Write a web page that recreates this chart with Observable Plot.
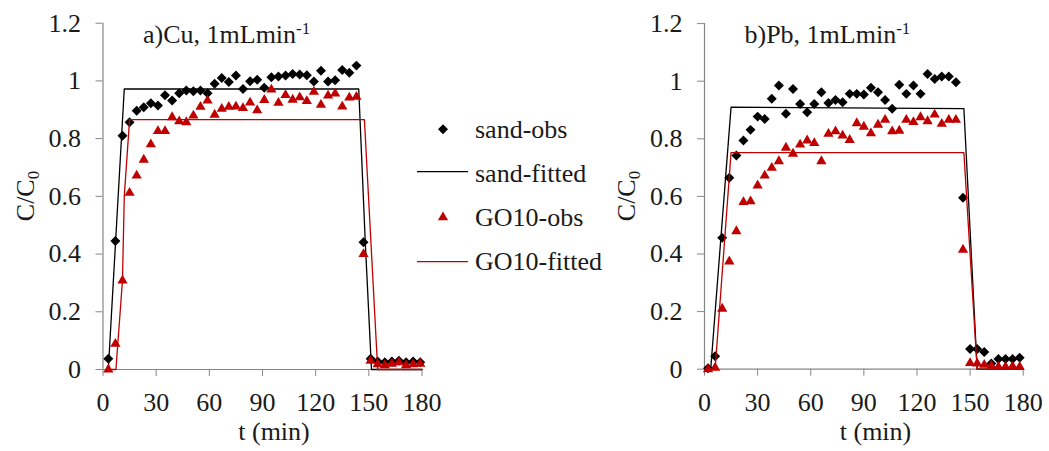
<!DOCTYPE html>
<html><head><meta charset="utf-8">
<script src="https://cdn.jsdelivr.net/npm/d3@7"></script>
<script src="https://cdn.jsdelivr.net/npm/@observablehq/plot@0.6"></script>
<style>
html,body{margin:0;padding:0;background:#fff;}
#wrap{position:relative;width:1049px;height:451px;overflow:hidden;}
#wrap > svg{position:absolute;top:0;}
</style></head><body>
<div id="wrap"></div>
<script>
// ---------- data ----------
const xTicks = [0, 30, 60, 90, 120, 150, 180];
const yTicks = [0, 0.2, 0.4, 0.6, 0.8, 1, 1.2];

// a) Cu
const tCu = [3,7,11,15,19,23,27,31,35,39,43,47,51,55,59,63,67,71,75,79,83,87,91,95,99,103,107,111,115,119,123,127,131,135,139,143,147,151,155,159,163,167,171,175,179];
const cuSandObs = [0.037,0.445,0.81,0.857,0.897,0.909,0.923,0.915,0.95,0.932,0.957,0.967,0.964,0.967,0.957,0.99,1.01,0.996,1.019,0.972,0.999,1.004,0.976,1.013,1.015,1.019,1.024,1.022,1.02,0.998,1.035,0.998,1.002,1.038,1.028,1.053,0.441,0.037,0.028,0.025,0.028,0.03,0.025,0.028,0.025];
const cuGO10Obs = [0,0.089,0.308,0.612,0.672,0.727,0.78,0.826,0.826,0.874,0.86,0.857,0.88,0.91,0.932,0.883,0.903,0.91,0.911,0.906,0.925,0.898,0.934,0.97,0.924,0.951,0.935,0.943,0.93,0.962,0.917,0.949,0.956,0.911,0.942,0.945,0.40,0.03,0.018,0.015,0.02,0.025,0.015,0.018,0.02];
const cuSandFitT = [3, 12, 144.3, 148, 151.5, 180];
const cuSandFitC = [0, 0.972, 0.972, 0.44, 0, 0];
const cuGO10FitT = [3, 7.3, 11, 12, 15, 147.5, 155, 180];
const cuGO10FitC = [0, 0, 0.31, 0.6, 0.866, 0.866, 0, 0];

// b) Pb
const tPb = [2,6,10,14,18,22,26,30,34,38,42,46,50,54,58,62,66,70,74,78,82,86,90,94,98,102,106,110,114,118,122,126,130,134,138,142,146,150,154,158,162,166,170,174,178];
const pbSandObs = [0.003,0.045,0.456,0.665,0.742,0.794,0.831,0.877,0.869,0.939,0.985,0.887,0.973,0.921,0.892,0.921,0.962,0.924,0.935,0.927,0.956,0.956,0.954,0.977,0.962,0.935,0.904,0.988,0.956,0.985,0.956,1.025,1.008,1.016,1.016,0.996,0.595,0.07,0.07,0.06,0.02,0.035,0.035,0.035,0.04];
const pbGO10Obs = [0,0.005,0.21,0.374,0.479,0.58,0.583,0.638,0.672,0.699,0.722,0.769,0.748,0.78,0.794,0.785,0.722,0.817,0.826,0.811,0.796,0.854,0.842,0.819,0.849,0.866,0.826,0.828,0.866,0.858,0.875,0.861,0.884,0.852,0.866,0.866,0.415,0.021,0.02,0.015,0.012,0.008,0.008,0.01,0.008];
const pbSandFitT = [2, 3.5, 15, 146.5, 154, 180];
const pbSandFitC = [0, 0, 0.91, 0.905, 0, 0];
const pbGO10FitT = [2, 6, 15, 146.5, 154, 180];
const pbGO10FitC = [0, 0, 0.752, 0.752, 0, 0];

const seriesNames = ["sand-obs", "sand-fitted", "GO10-obs", "GO10-fitted"];
const titles = [["a)Cu, 1mLmin", "-1"], ["b)Pb, 1mLmin", "-1"]];

// ---------- style ----------
const FONT = '"Liberation Serif", "Times New Roman", serif';
const AXIS = "#868686";
const TXT = "#1a1a1a";
const RED = "#c00000";

const zip = (t, c) => t.map((d, i) => ({t: d, c: c[i]}));

function panel(t, sandObs, goObs, sFT, sFC, gFT, gFC, g) {
  return Plot.plot({
    width: g.width, height: 451,
    marginLeft: g.ml, marginRight: g.mr, marginTop: g.mt, marginBottom: g.mb,
    style: {fontFamily: FONT, fontSize: "26px", background: "none", color: TXT, overflow: "visible"},
    x: {domain: [0, 180]},
    y: {domain: [0, 1.2]},
    marks: [
      Plot.ruleY([0], {stroke: AXIS, strokeWidth: 1.2}),
      Plot.ruleX([0], {stroke: AXIS, strokeWidth: 1.2}),
      Plot.axisX({ticks: xTicks, tickSize: 7, tickPadding: 16, stroke: AXIS, fill: TXT, label: null, tickFormat: d => String(d)}),
      Plot.axisY({ticks: yTicks, tickSize: 7, tickPadding: 15, stroke: AXIS, fill: TXT, label: null, tickFormat: d => String(+d.toFixed(1))}),
      Plot.dot(zip(t, sandObs), {x: "t", y: "c", symbol: "diamond2", r: 4.5, fill: "#000", stroke: "none"}),
      Plot.line(zip(sFT, sFC), {x: "t", y: "c", stroke: "#000", strokeWidth: 1.3}),
      Plot.dot(zip(t, goObs), {x: "t", y: "c", symbol: "triangle", r: 3.8, fill: RED, stroke: "none"}),
      Plot.line(zip(gFT, gFC), {x: "t", y: "c", stroke: RED, strokeWidth: 1.3})
    ]
  });
}

const wrap = document.getElementById("wrap");
const left = panel(tCu, cuSandObs, cuGO10Obs, cuSandFitT, cuSandFitC, cuGO10FitT, cuGO10FitC,
  {width: 460, ml: 102.5, mr: 38.5, mt: 22.7, mb: 82});
left.style.left = "0px";
wrap.appendChild(left);
const right = panel(tPb, pbSandObs, pbGO10Obs, pbSandFitT, pbSandFitC, pbGO10FitT, pbGO10FitC,
  {width: 449, ml: 104, mr: 26.3, mt: 23.1, mb: 82.3});
right.style.left = "600px";
wrap.appendChild(right);

// ---------- overlay: titles, axis labels, legend ----------
const ov = d3.select(wrap).append("svg")
  .attr("width", 1049).attr("height", 451)
  .style("left", "0px").style("pointer-events", "none")
  .attr("font-family", FONT).attr("font-size", 26).attr("fill", TXT);

[[143, titles[0]], [744.5, titles[1]]].forEach(([x, tt]) => {
  const tx = ov.append("text").attr("x", x).attr("y", 43).text(tt[0]);
  tx.append("tspan").attr("font-size", 17).attr("dy", -9).text(tt[1]);
});

[33.5, 635].forEach(x => {
  const tx = ov.append("text").attr("transform", `translate(${x},196) rotate(-90)`)
    .attr("text-anchor", "middle").text("C/C");
  tx.append("tspan").attr("font-size", 17).attr("dy", 5).text("0");
});

[274, 875.5].forEach(x => {
  ov.append("text").attr("x", x).attr("y", 440).attr("text-anchor", "middle").text("t (min)");
});

// legend
const lg = ov.append("g");
lg.append("path").attr("transform", "translate(443,129.3)")
  .attr("d", d3.symbol(d3.symbolDiamond2, Math.PI * 4.5 * 4.5)()).attr("fill", "#000");
lg.append("line").attr("x1", 417).attr("x2", 468).attr("y1", 171.7).attr("y2", 171.7)
  .attr("stroke", "#000").attr("stroke-width", 1.3);
lg.append("path").attr("transform", "translate(443,217.3)")
  .attr("d", d3.symbol(d3.symbolTriangle, Math.PI * 3.8 * 3.8)()).attr("fill", RED);
lg.append("line").attr("x1", 417).attr("x2", 468).attr("y1", 261.7).attr("y2", 261.7)
  .attr("stroke", RED).attr("stroke-width", 1.3);
[137.5, 181.5, 226, 270].forEach((y, i) => {
  lg.append("text").attr("x", 475).attr("y", y).text(seriesNames[i]);
});
</script>
</body></html>
